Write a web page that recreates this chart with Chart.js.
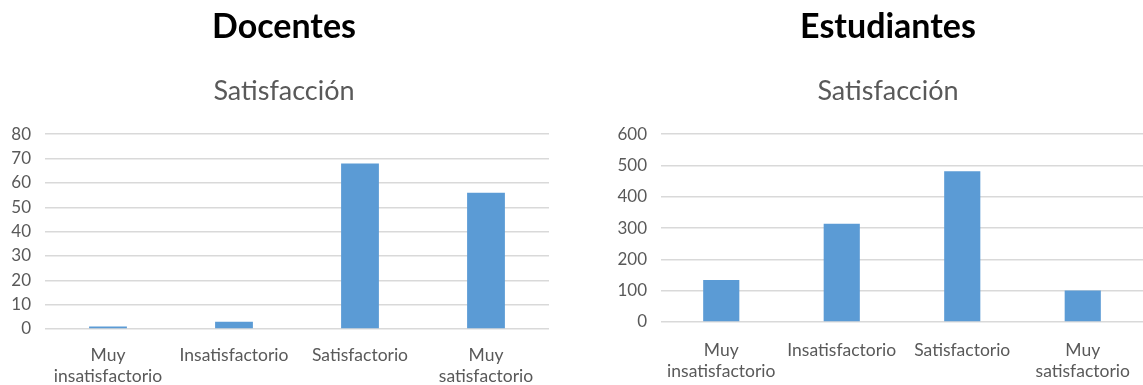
<!DOCTYPE html>
<html>
<head>
<meta charset="utf-8">
<script src="https://cdn.jsdelivr.net/npm/chart.js@4/dist/chart.umd.min.js"></script>
<style>
  html, body { margin: 0; background: #fff; overflow: hidden; width: 1143px; height: 385px; }
  .wrap { position: absolute; top: 0; height: 385px; }
</style>
</head>
<body>
<div class="wrap" style="left:0;width:568px"><canvas id="docentesChart"></canvas></div>
<div class="wrap" style="left:590px;width:596px"><canvas id="estudiantesChart"></canvas></div>
<script>
// Categorías y valores
const categorias = [['Muy', 'insatisfactorio'], 'Insatisfactorio', 'Satisfactorio', ['Muy', 'satisfactorio']];
const docentes = [1, 3, 68, 56];
const estudiantes = [134, 314, 482, 101];
const ticksDocentes = { max: 80, step: 10 };
const ticksEstudiantes = { max: 600, step: 100 };

const fuente = 'Lato, "Open Sans", sans-serif';
const gris = '#595959';

function crearGrafico(id, titulo, valores, ticks, anchoEjeY, altoEjeX, margenDer, sepX) {
    const ctx = document.getElementById(id).getContext('2d');
    return new Chart(ctx, {
        type: 'bar',
        data: {
            labels: categorias,
            datasets: [{
                label: 'Satisfacción',
                data: valores,
                backgroundColor: '#5B9BD5',
                barPercentage: 0.6,
                categoryPercentage: 0.5
            }]
        },
        options: {
            responsive: true,
            maintainAspectRatio: false,
            animation: false,
            layout: { padding: 0 },
            scales: {
                x: {
                    grid: { display: false, drawTicks: false },
                    border: { display: false },
                    ticks: {
                        color: gris,
                        font: { family: fuente, size: 17.5 },
                        maxRotation: 0,
                        autoSkip: false,
                        padding: sepX
                    },
                    afterFit: s => { s.height = altoEjeX; }
                },
                y: {
                    min: 0,
                    max: ticks.max,
                    grid: { color: '#d9d9d9', lineWidth: 1.5, drawTicks: false },
                    border: { display: false },
                    ticks: {
                        stepSize: ticks.step,
                        color: gris,
                        font: { family: fuente, size: 17 },
                        padding: 14
                    },
                    afterFit: s => { s.width = anchoEjeY; }
                },
                // eje vacío a la derecha: sólo reserva espacio para centrar los títulos
                margen: {
                    position: 'right',
                    min: 0,
                    max: 1,
                    grid: { display: false },
                    border: { display: false },
                    ticks: { display: false },
                    afterFit: s => { s.width = margenDer; }
                }
            },
            plugins: {
                legend: { display: false },
                tooltip: { enabled: false },
                title: {
                    display: true,
                    text: titulo,
                    color: '#000',
                    font: { family: fuente, size: 34, weight: 'bold' },
                    padding: { top: 7, bottom: 27 }
                },
                subtitle: {
                    display: true,
                    text: 'Satisfacción',
                    color: gris,
                    font: { family: fuente, size: 27, weight: 'normal' },
                    padding: { top: 0, bottom: 27 }
                }
            }
        }
    });
}

crearGrafico('docentesChart', 'Docentes', docentes, ticksDocentes, 45, 56, 19, 16);
crearGrafico('estudiantesChart', 'Estudiantes', estudiantes, ticksEstudiantes, 71, 63, 43, 18);
</script>
</body>
</html>
